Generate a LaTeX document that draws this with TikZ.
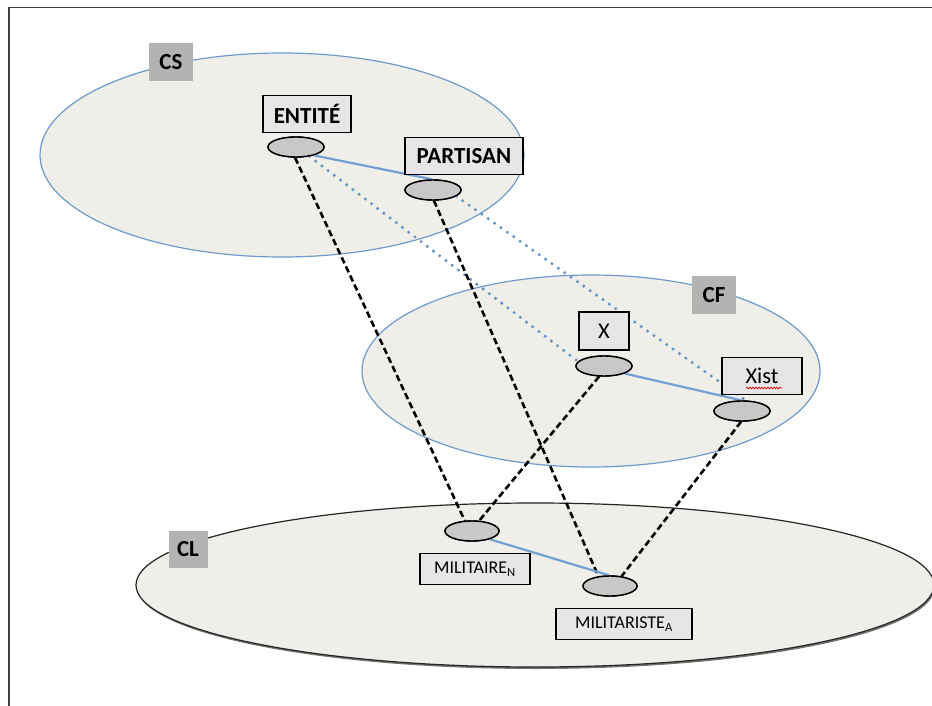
\documentclass[tikz,border=0pt]{standalone}
\usepackage{fontspec}
\setmainfont{Carlito}
\usetikzlibrary{shapes.geometric,decorations.pathmorphing}
\definecolor{beige}{RGB}{240,238,232}
\definecolor{zoneblue}{RGB}{110,155,205}
\definecolor{linkblue}{RGB}{115,160,210}
\definecolor{dotblue}{RGB}{100,148,200}
\definecolor{nodegray}{RGB}{200,200,200}
\definecolor{taggray}{RGB}{179,179,179}
\definecolor{boxgray}{RGB}{230,230,230}
\begin{document}
\begin{tikzpicture}[x=1pt,y=-1pt,
  zone/.style={ellipse, draw=zoneblue, line width=1.2pt, fill=beige, inner sep=0pt},
  sem/.style={ellipse, draw=black, line width=1.4pt, fill=nodegray, minimum width=56pt, minimum height=20pt, inner sep=0pt},
  zonetag/.style={fill=taggray, font=\bfseries\fontsize{23}{27}\selectfont, inner sep=0pt, minimum width=44pt, minimum height=38pt},
  bigbox/.style={draw=black, fill=boxgray, line width=1.3pt, inner sep=0pt, minimum height=37pt, font=\fontsize{22.5}{26}\selectfont},
  smallbox/.style={draw=black, fill=boxgray, line width=1.3pt, inner sep=0pt, minimum height=31pt, font=\fontsize{18}{21}\selectfont},
  bluelink/.style={draw=linkblue, line width=2.2pt},
  dashlink/.style={draw=black, line width=2.6pt, dash pattern=on 6.5pt off 3.5pt},
  dotlink/.style={draw=dotblue, line width=3.4pt, line cap=round, dash pattern=on 0pt off 7.8pt}
]
\useasboundingbox (0,0) rectangle (932,706);
\fill[white] (0,0) rectangle (932,706);
% frame
\draw[black!75, line width=1.6pt] (9,706) -- (9,7.5) -- (932,7.5);

% zones
\node[zone, minimum width=484pt, minimum height=204pt] (CSz) at (282,155) {};
\node[zone, minimum width=458pt, minimum height=192pt] (CFz) at (591,371) {};
\node[ellipse, fill=black!55, minimum width=798pt, minimum height=164pt, inner sep=0pt] (CLs) at (536,587) {};
\node[zone, draw=black!85, minimum width=798pt, minimum height=164pt] (CLz) at (535,585) {};

% semantic nodes
\node[sem] (E1) at (296,147) {};
\node[sem] (P1) at (433,190) {};
\node[sem] (X1) at (604,366) {};
\node[sem] (Xi1) at (742,411) {};
\node[sem, minimum width=54pt] (M1) at (472,531) {};
\node[sem, minimum width=54pt] (MA) at (610,586) {};

% connectors
\draw[dotlink] (E1.-35) -- (X1.170);
\draw[dotlink] (P1.-15) -- (Xi1.70);
\draw[dashlink] (E1.265) -- (M1.125);
\draw[dashlink] (P1.275) -- (MA.140);
\draw[dashlink] (X1.245) -- (M1.55);
\draw[dashlink] (Xi1.265) -- (MA.40);
\draw[bluelink] (E1.-25) -- (P1.95);
\draw[bluelink] (X1.-20) -- (Xi1.95);
\draw[bluelink] (M1.-25) -- (MA.95);

% redraw semantic nodes on top
\node[sem] at (E1) {};
\node[sem] at (P1) {};
\node[sem] at (X1) {};
\node[sem] at (Xi1) {};
\node[sem, minimum width=54pt] at (M1) {};
\node[sem, minimum width=54pt] at (MA) {};

% zone tags
\node[zonetag] (CS) at (171,62) {CS};
\node[zonetag] (CF) at (714,295) {CF};
\node[zonetag, minimum width=39pt, minimum height=37pt] (CL) at (188,549) {CL};

% label boxes
\node[bigbox, font=\bfseries\fontsize{23}{27}\selectfont, minimum width=88pt] (ENT) at (307,114) {ENTITÉ};
\node[bigbox, font=\bfseries\fontsize{23}{27}\selectfont, minimum width=118pt] (PAR) at (464,156) {PARTISAN};
\node[bigbox, minimum width=50pt, minimum height=38pt] (XL) at (604,331) {X};
\node[bigbox, minimum width=80pt] (XiL) at (762,376) {Xist};
\draw[red!85!black, line width=0.7pt, decorate, decoration={snake, segment length=3pt, amplitude=0.9pt}] ([xshift=-16pt,yshift=-12pt]XiL.center) -- ([xshift=20pt,yshift=-12pt]XiL.center);
\node[smallbox, minimum width=110pt] (ML) at (475,569) {MILITAIRE\textsubscript{N}};
\node[smallbox, minimum width=136pt] (MAL) at (624,624) {MILITARISTE\textsubscript{A}};
\end{tikzpicture}
\end{document}
